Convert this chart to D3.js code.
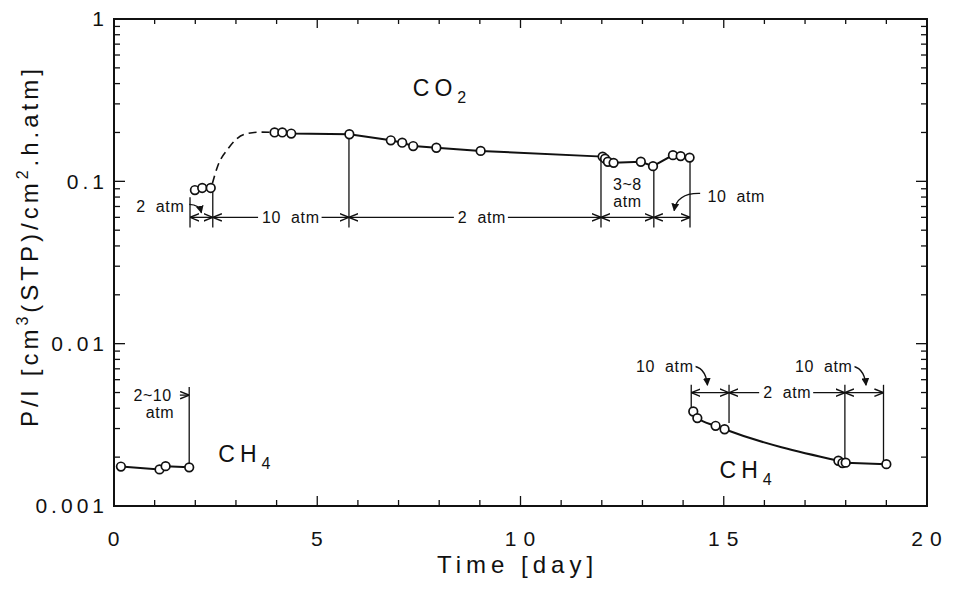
<!DOCTYPE html>
<html>
<head>
<meta charset="utf-8">
<script src="https://cdn.jsdelivr.net/npm/d3@7"></script>
<style>
  body { margin: 0; background: #fff; }
  text { font-family: "Liberation Sans", Arial, sans-serif; fill: #111; }
</style>
</head>
<body>
<svg id="chart" width="956" height="589"></svg>
<script>
// values (day, P/l)
const co2LowDay = [1.99, 2.17, 2.38];
const co2LowVal = [0.0884, 0.091, 0.091];
const co2DashDay = [2.42, 2.55, 2.80, 3.21, 3.62, 3.95];
const co2DashVal = [0.097, 0.124, 0.158, 0.195, 0.201, 0.200];
const co2Day = [3.95, 4.14, 4.36, 5.79, 6.81, 7.09, 7.36, 7.93, 9.02, 12.02, 12.08, 12.15, 12.29, 12.96, 13.26, 13.75, 13.94, 14.16];
const co2Val = [0.200, 0.200, 0.197, 0.195, 0.179, 0.173, 0.165, 0.161, 0.154, 0.142, 0.138, 0.132, 0.130, 0.132, 0.124, 0.145, 0.143, 0.140];
const ch4aDay = [0.17, 1.12, 1.27, 1.85];
const ch4aVal = [0.00175, 0.00168, 0.00176, 0.00173];
const ch4bDay = [14.25, 14.35, 14.80, 15.02, 17.82, 17.92, 18.00, 19.0];
const ch4bVal = [0.00382, 0.00348, 0.00312, 0.00297, 0.00190, 0.00184, 0.00185, 0.00181];

// axes
const xMajor = [0, 5, 10, 15, 20];
const yMajor = [0.001, 0.01, 0.1, 1];
const yLabels = ["0.001", "0.01", "0.1", "1"];

// pressure-step annotations
const co2Split = [1.87, 2.43, 5.78, 11.98, 13.28, 14.17];
const co2SplitTop = [0.0797, 0.091, 0.195, 0.142, 0.124, 0.140];
const co2Bracket = 0.060, co2SplitBottom = 0.052;
const ch4Split = [14.2, 15.13, 17.98, 18.93];
const ch4SplitBottom = [0.00392, 0.00325, 0.00187, 0.00184];
const ch4Bracket = 0.00499, ch4SplitTop = 0.00558;
const ch4aSplit = 1.85, ch4aSplitTop = 0.0054;

const margin = {top: 19, right: 29, bottom: 83, left: 114};
const W = 956, H = 589;
const width = W - margin.left - margin.right;
const height = H - margin.top - margin.bottom;

const svg = d3.select('#chart');
const g = svg.append('g').attr('transform', `translate(${margin.left},${margin.top})`);

const x = d3.scaleLinear().domain([0, 20]).range([0, width]);
const y = d3.scaleLog().domain([0.001, 1]).range([height, 0]);

svg.append('defs').html(`
  <marker id="ah" viewBox="0 0 10 10" refX="10" refY="5" markerWidth="7" markerHeight="7" orient="auto-start-reverse">
    <path d="M0,1 L10,5 L0,9" fill="none" stroke="#111" stroke-width="1.6"/>
  </marker>
  <marker id="ah2" viewBox="0 0 10 10" refX="9" refY="5" markerWidth="6" markerHeight="6" orient="auto">
    <path d="M0,0 L10,5 L0,10 z" fill="#111"/>
  </marker>`);

// frame
g.append('rect').attr('width', width).attr('height', height)
  .attr('fill', 'none').attr('stroke', '#111').attr('stroke-width', 2);

// ticks, all pointing inward
const xMinor = d3.range(0, 21);
const yMinor = y.ticks();
const tick = g.append('g').attr('stroke', '#111').attr('stroke-width', 1.3);
xMinor.forEach(d => {
  const len = d % 5 === 0 ? 10 : 6;
  tick.append('line').attr('x1', x(d)).attr('x2', x(d)).attr('y1', height).attr('y2', height - len);
  tick.append('line').attr('x1', x(d)).attr('x2', x(d)).attr('y1', 0).attr('y2', len - 1);
});
yMinor.forEach(v => {
  const major = yMajor.includes(v);
  const len = major ? 11 : 6;
  tick.append('line').attr('x1', 0).attr('x2', len).attr('y1', y(v)).attr('y2', y(v));
  tick.append('line').attr('x1', width).attr('x2', width - len).attr('y1', y(v)).attr('y2', y(v));
});

// tick labels
g.selectAll('.xl').data(xMajor).enter().append('text')
  .attr('x', d => x(d) + 3).attr('y', height + 40)
  .attr('text-anchor', 'middle')
  .style('font-size', '21px').style('letter-spacing', '7px')
  .text(d => d);
g.selectAll('.yl').data(yMajor).enter().append('text')
  .attr('x', -6).attr('y', d => y(d)).attr('dy', '0.35em')
  .attr('text-anchor', 'end')
  .style('font-size', '21px').style('letter-spacing', '4px')
  .text((d, i) => yLabels[i]);

// axis titles
svg.append('text').attr('x', margin.left + width / 2 - 3).attr('y', 573)
  .attr('text-anchor', 'middle')
  .style('font-size', '24px').style('letter-spacing', '5px')
  .text('Time [day]');
const yt = svg.append('text').attr('transform', 'translate(38,246) rotate(-90)')
  .attr('text-anchor', 'middle')
  .style('font-size', '24px').style('letter-spacing', '4px');
yt.append('tspan').text('P/l [cm');
yt.append('tspan').attr('dy', -10).style('font-size', '16px').text('3');
yt.append('tspan').attr('dy', 10).text('(STP)/cm');
yt.append('tspan').attr('dy', -10).style('font-size', '16px').text('2');
yt.append('tspan').attr('dy', 10).text('.h.atm]');

// lines
const lineLin = d3.line().x(d => x(d[0])).y(d => y(d[1]));
const lineSmooth = d3.line().x(d => x(d[0])).y(d => y(d[1])).curve(d3.curveMonotoneX);
const ch4b = d3.zip(ch4bDay, ch4bVal);
const lines = g.append('g').attr('fill', 'none').attr('stroke', '#111').attr('stroke-width', 2);
lines.append('path').attr('d', lineLin(d3.zip(co2LowDay, co2LowVal)));
lines.append('path').attr('d', lineSmooth(d3.zip(co2DashDay, co2DashVal)))
  .attr('stroke-dasharray', '8,5').attr('stroke-width', 1.6);
lines.append('path').attr('d', lineLin(d3.zip(co2Day, co2Val)));
lines.append('path').attr('d', lineLin(d3.zip(ch4aDay, ch4aVal)));
lines.append('path').attr('d', lineSmooth(ch4b.slice(0, 5)));
lines.append('path').attr('d', lineLin(ch4b.slice(4)));

// bracket lines
const ann = g.append('g').attr('stroke', '#111').attr('stroke-width', 1.3).attr('fill', 'none');
co2Split.forEach((d, i) => {
  ann.append('line').attr('x1', x(d)).attr('x2', x(d)).attr('y1', y(co2SplitTop[i])).attr('y2', y(co2SplitBottom));
  if (i > 0) {
    ann.append('line').attr('x1', x(co2Split[i - 1])).attr('x2', x(d))
      .attr('y1', y(co2Bracket)).attr('y2', y(co2Bracket))
      .attr('marker-start', 'url(#ah)').attr('marker-end', 'url(#ah)');
  }
});
ch4Split.forEach((d, i) => {
  ann.append('line').attr('x1', x(d)).attr('x2', x(d)).attr('y1', y(ch4SplitTop)).attr('y2', y(ch4SplitBottom[i]));
  if (i > 0) {
    ann.append('line').attr('x1', x(ch4Split[i - 1])).attr('x2', x(d))
      .attr('y1', y(ch4Bracket)).attr('y2', y(ch4Bracket))
      .attr('marker-start', 'url(#ah)').attr('marker-end', 'url(#ah)');
  }
});
ann.append('line').attr('x1', x(ch4aSplit)).attr('x2', x(ch4aSplit))
  .attr('y1', y(ch4aSplitTop)).attr('y2', y(ch4aVal[3]));
ann.append('line').attr('x1', x(1.62)).attr('x2', x(ch4aSplit))
  .attr('y1', y(0.00482)).attr('y2', y(0.00482)).attr('marker-end', 'url(#ah)');

// curved pointers: [from day, from val, ctrl day, ctrl val, to day, to val]
const curls = [
  [1.85, 0.0722, 2.10, 0.0720, 2.15, 0.0640],
  [14.42, 0.0842, 13.85, 0.0850, 13.78, 0.0660],
  [14.15, 0.00728, 14.55, 0.00740, 14.60, 0.00555],
  [18.05, 0.00728, 18.45, 0.00740, 18.50, 0.00555]
];
curls.forEach(c => {
  ann.append('path')
    .attr('d', `M${x(c[0])},${y(c[1])} Q${x(c[2])},${y(c[3])} ${x(c[4])},${y(c[5])}`)
    .attr('marker-end', 'url(#ah2)');
});

// annotation text: [label, day, val, anchor]
const notes = [
  ['2 atm', 1.73, 0.0701, 'end'],
  ['10 atm', 4.35, co2Bracket, 'middle'],
  ['2 atm', 9.05, co2Bracket, 'middle'],
  ['3~8', 12.63, 0.0958, 'middle'],
  ['atm', 12.63, 0.0752, 'middle'],
  ['10 atm', 14.6, 0.0808, 'start'],
  ['10 atm', 13.55, 0.00721, 'middle'],
  ['2 atm', 16.56, ch4Bracket, 'middle'],
  ['10 atm', 17.46, 0.00721, 'middle'],
  ['2~10', 0.95, 0.00482, 'middle'],
  ['atm', 1.13, 0.00375, 'middle']
];
const noteG = g.selectAll('.note').data(notes).enter().append('g');
noteG.append('text')
  .attr('x', d => x(d[1])).attr('y', d => y(d[2])).attr('dy', '0.35em')
  .attr('text-anchor', d => d[3])
  .style('font-size', '16px').style('letter-spacing', '0.6px').style('word-spacing', '5px')
  .text(d => d[0]);
// white patch under the label so the bracket line stops at the text
noteG.each(function () {
  const box = this.querySelector('text').getBBox();
  d3.select(this).insert('rect', 'text')
    .attr('x', box.x - 4).attr('y', box.y + 2)
    .attr('width', box.width + 6).attr('height', box.height - 4)
    .attr('fill', '#fff');
});

// gas labels
function gas(name, sub, day, val) {
  const t = g.append('text').attr('x', x(day)).attr('y', y(val)).attr('text-anchor', 'middle')
    .style('font-size', '23px').style('letter-spacing', '5px');
  t.append('tspan').text(name);
  t.append('tspan').attr('dy', 7).style('font-size', '16px').text(sub);
}
gas('CO', '2', 8.07, 0.335);
gas('CH', '4', 3.27, 0.00187);
gas('CH', '4', 15.6, 0.00149);

// points
const pts = [].concat(
  d3.zip(co2LowDay, co2LowVal), d3.zip(co2Day, co2Val),
  d3.zip(ch4aDay, ch4aVal), ch4b);
g.selectAll('.pt').data(pts).enter().append('circle')
  .attr('cx', d => x(d[0])).attr('cy', d => y(d[1])).attr('r', 4.3)
  .attr('fill', '#fff').attr('stroke', '#111').attr('stroke-width', 1.7);
</script>
</body>
</html>
